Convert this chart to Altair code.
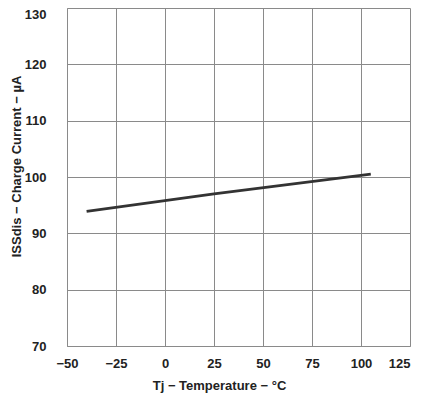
import pandas as pd
import altair as alt

# Tj (°C) vs ISSdis charge current (µA)
temps = [-40, 25, 105]
current = [93.9, 97.0, 100.5]

x_ticks = [-50, -25, 0, 25, 50, 75, 100, 125]
y_ticks = [70, 80, 90, 100, 110, 120, 130]

FONT = "Liberation Sans"
GRID = "#8a8a8a"
LINE = "#333333"

df = pd.DataFrame({"temp": temps, "current": current})

chart = (
    alt.Chart(df)
    .mark_line(color=LINE, strokeWidth=2.7)
    .encode(
        x=alt.X(
            "temp:Q",
            scale=alt.Scale(domain=[-50, 125], nice=False, zero=False),
            axis=alt.Axis(
                values=x_ticks,
                title="Tj − Temperature − °C",
                titleX=152,
                titleY=39,
                titleAlign="center",
                titleBaseline="middle",
                labelPadding=11,
                labelFlush=False,
                labelAlign=alt.ExprRef("datum.value == 125 ? 'right' : 'center'"),
            ),
        ),
        y=alt.Y(
            "current:Q",
            scale=alt.Scale(domain=[70, 130], nice=False, zero=False),
            axis=alt.Axis(
                values=y_ticks,
                title="ISSdis − Charge Current − µA",
                titleX=-51,
                titleY=158,
                titleAngle=-90,
                titleAlign="center",
                titleBaseline="middle",
                labelPadding=21,
                labelFlush=False,
                labelBaseline=alt.ExprRef("datum.value == 130 ? 'top' : 'middle'"),
            ),
        ),
    )
    .properties(
        width=343,
        height=338,
        autosize=alt.AutoSizeParams(type="none"),
        padding={"left": 59, "top": 0, "right": 4, "bottom": 50},
    )
    .configure_view(stroke=None)
    .configure_axis(
        grid=True,
        gridColor=GRID,
        gridOpacity=1,
        gridWidth=1,
        domainColor=GRID,
        domainWidth=1,
        ticks=False,
        labelFont=FONT,
        labelFontSize=13,
        labelFontWeight="bold",
        labelColor="#222222",
        titleFont=FONT,
        titleFontSize=13,
        titleFontWeight="bold",
        titleColor="#222222",
    )
)

chart.save("out.html", embed_options={"renderer": "svg", "actions": False})
